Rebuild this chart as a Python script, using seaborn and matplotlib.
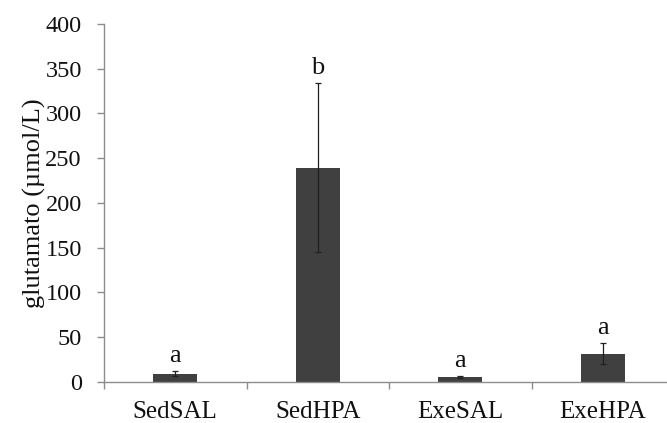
import matplotlib
matplotlib.use("Agg")
import matplotlib.pyplot as plt
import seaborn as sns
import pandas as pd
import numpy as np

categories = ["SedSAL", "SedHPA", "ExeSAL", "ExeHPA"]
means = [9.0, 239.0, 5.5, 31.5]
errors = [2.5, 94.5, 1.0, 11.5]
letters = ["a", "b", "a", "a"]

sns.set_theme(style="white")
plt.rcParams["font.family"] = ["Liberation Serif", "DejaVu Serif"]

df = pd.DataFrame({"group": categories, "value": means})

fig = plt.figure(figsize=(6.67, 4.23), dpi=100)
W, H = 667, 423
left, right, top, bottom = 104, 674, 24, 381.7
ax = fig.add_axes([left / W, 1 - bottom / H, (right - left) / W, (bottom - top) / H])

sns.barplot(data=df, x="group", y="value", color="#404040", saturation=1,
            width=0.31, errorbar=None, ax=ax, edgecolor="none")
ax.errorbar(np.arange(len(categories)), means, yerr=errors, fmt="none",
            ecolor="#202020", elinewidth=0.9, capsize=2.2, capthick=0.9)

for i, (m, e, t) in enumerate(zip(means, errors, letters)):
    ax.annotate(t, xy=(i, m + e), xytext=(0, 3), textcoords="offset points",
                ha="center", va="bottom", fontsize=19, color="#111111")

ax.set_ylim(0, 400)
ax.set_xlim(-0.5, 3.5)
ax.set_yticks(np.arange(0, 401, 50))
ax.set_xlabel("")
ax.set_ylabel("glutamato (µmol/L)", fontsize=19, color="#111111")
ax.yaxis.set_label_coords(-0.102, 0.5)

for s in ["top", "right"]:
    ax.spines[s].set_visible(False)
for s in ["left", "bottom"]:
    ax.spines[s].set_color("#8c8c8c")
    ax.spines[s].set_linewidth(1.0)

ax.tick_params(axis="y", which="major", left=True, length=5, width=1,
               color="#8c8c8c", labelsize=17.5, labelcolor="#111111", pad=11)
ax.tick_params(axis="x", which="major", bottom=False, length=0,
               labelsize=18, labelcolor="#111111", pad=14)
ax.set_xticks([-0.5, 0.5, 1.5, 2.5, 3.5], minor=True)
ax.tick_params(axis="x", which="minor", bottom=True, length=5, width=1,
               color="#8c8c8c")

fig.savefig("out.png", dpi=100, facecolor="white")
